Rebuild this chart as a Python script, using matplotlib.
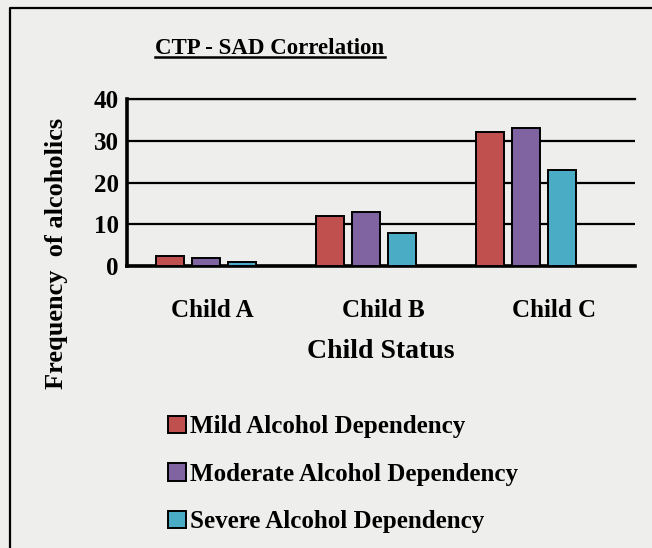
import numpy as np
import matplotlib.pyplot as plt
from matplotlib.lines import Line2D

# данные
categories = ['Child A', 'Child B', 'Child C']
series_names = ['Mild Alcohol Dependency', 'Moderate Alcohol Dependency', 'Severe Alcohol Dependency']
mild = [2.5, 12, 32]
moderate = [1.8, 13, 33]
severe = [0.9, 8, 23]
y_ticks = [0, 10, 20, 30, 40]

colors = ['#C0504D', '#8064A2', '#4BACC6']
BG = '#eeeeec'
FONT = 'Liberation Serif'

fig = plt.figure(figsize=(6.52, 5.48), dpi=100)
fig.patch.set_facecolor(BG)

# рамка: видны только левая и верхняя стороны
fx, fy = 10 / 652, 1 - 8 / 548
fig.add_artist(Line2D([fx, fx, 1.0], [0.0, fy, fy], transform=fig.transFigure,
                      color='black', linewidth=1.6))

ax = fig.add_axes([127 / 652, (548 - 266) / 548, 508 / 652, 167 / 548])
ax.set_facecolor('none')

x = np.arange(len(categories))
bw = 0.175
step = 0.225
for i, vals in enumerate([mild, moderate, severe]):
    ax.bar(x + (i - 1) * step, vals, width=bw, color=colors[i],
           edgecolor='black', linewidth=1.4, label=series_names[i], zorder=3)

ax.set_xlim(-0.494, 2.68)
ax.set_ylim(0, 40)
ax.set_yticks(y_ticks)
ax.set_yticklabels([str(v) for v in y_ticks], fontfamily=FONT, fontweight='bold', fontsize=18)
ax.set_xticks(x * 1.066 + 0.04)
ax.set_xticklabels(categories, fontfamily=FONT, fontweight='bold', fontsize=18)
ax.tick_params(axis='both', length=0)
ax.tick_params(axis='y', pad=6)
ax.tick_params(axis='x', pad=24)

ax.yaxis.grid(True, color='black', linewidth=1.6, zorder=1)
ax.set_axisbelow(True)
for s in ['top', 'right']:
    ax.spines[s].set_visible(False)
ax.spines['left'].set_linewidth(2.6)
ax.spines['bottom'].set_linewidth(2.6)
ax.axhline(40, color='black', linewidth=1.6, clip_on=False)

ax.set_xlabel('Child Status', fontfamily=FONT, fontweight='bold', fontsize=20, labelpad=12)
fig.text(57 / 652, 1 - 253 / 548, 'Frequency  of alcoholics', rotation=90,
         ha='center', va='center', fontfamily=FONT, fontweight='bold', fontsize=19)

# заголовок с подчёркиванием
title = fig.text(270 / 652, 1 - 48 / 548, 'CTP - SAD Correlation', ha='center', va='center',
                 fontfamily=FONT, fontweight='bold', fontsize=16.5)
fig.canvas.draw()
bb = title.get_window_extent().transformed(fig.transFigure.inverted())
fig.add_artist(Line2D([bb.x0, bb.x1], [bb.y0 + 0.002, bb.y0 + 0.002],
                      transform=fig.transFigure, color='black', linewidth=1.8))

leg = fig.legend(loc='upper left', bbox_to_anchor=(158 / 652, 1 - 405 / 548),
                 frameon=False, prop={'family': FONT, 'weight': 'bold', 'size': 18},
                 handlelength=0.7, handleheight=0.7, handletextpad=0.2,
                 labelspacing=0.98, borderaxespad=0)

plt.savefig('out.png', dpi=100, facecolor=BG)
